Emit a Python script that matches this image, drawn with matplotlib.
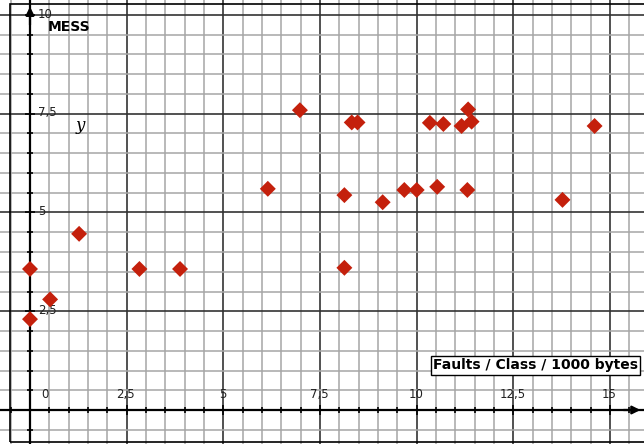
import numpy as np
import matplotlib
matplotlib.use("Agg")
import matplotlib.pyplot as plt
from matplotlib.ticker import MultipleLocator
from matplotlib.transforms import offset_copy
from matplotlib.patches import Rectangle

# faults / class / 1000 bytes  vs  MESS
faults = [0.0, 0.0, 0.52, 1.27, 2.83, 3.88, 6.15, 6.98, 8.13, 8.13,
          8.32, 8.47, 9.12, 9.68, 10.0, 10.34, 10.53, 10.69, 11.16,
          11.33, 11.42, 11.31, 13.77, 14.6]
mess = [3.57, 2.3, 2.8, 4.46, 3.57, 3.57, 5.6, 7.59, 5.44, 3.6,
        7.28, 7.28, 5.26, 5.57, 5.57, 7.27, 5.65, 7.24, 7.19,
        7.61, 7.3, 5.57, 5.32, 7.19]

xticks = [0, 2.5, 5, 7.5, 10, 12.5, 15]
xlabels = ["0", "2,5", "5", "7,5", "10", "12,5", "15"]
yticks = [2.5, 5, 7.5, 10]
ylabels = ["2,5", "5", "7,5", "10"]

fig = plt.figure(figsize=(6.44, 4.44), dpi=100)
ax = fig.add_axes([0, 0, 1, 1])
ax.set_xlim(-30 / 38.67, 614 / 38.67)
ax.set_ylim(-34 / 39.5, 410 / 39.5)

ax.xaxis.set_major_locator(MultipleLocator(2.5))
ax.xaxis.set_minor_locator(MultipleLocator(0.5))
ax.yaxis.set_major_locator(MultipleLocator(2.5))
ax.yaxis.set_minor_locator(MultipleLocator(0.5))
ax.grid(which="minor", color="#a6a6a6", lw=1.1)
ax.grid(which="major", color="#333333", lw=1.2)
ax.set_axisbelow(True)

for s in ["top", "right"]:
    ax.spines[s].set_visible(False)
for s in ["left", "bottom"]:
    ax.spines[s].set_position(("data", 0))
    ax.spines[s].set_linewidth(1.6)
ax.tick_params(which="both", direction="inout", labelbottom=False,
               labelleft=False, color="black", width=1.2)
ax.tick_params(which="major", length=7)
ax.tick_params(which="minor", length=4)

# frame
ax.add_patch(Rectangle((10 / 644, 2 / 444), 1, (440 - 2) / 444,
                       transform=ax.transAxes, fill=False, ec="black",
                       lw=1.2, clip_on=False, zorder=5))

# arrow heads
x0, x1 = ax.get_xlim()
y0, y1 = ax.get_ylim()
ax.annotate("", xy=(x1 - 0.02, 0), xytext=(x1 - 0.6, 0),
            arrowprops=dict(arrowstyle="-|>", color="black", lw=1.6,
                            mutation_scale=12), zorder=6)
ax.annotate("", xy=(0, y1 - 0.1), xytext=(0, y1 - 0.7),
            arrowprops=dict(arrowstyle="-|>", color="black", lw=1.6,
                            mutation_scale=12), zorder=6)

# tick labels
for v, lab in zip(xticks, xlabels):
    dx = 15 if v == 0 else -1
    tr = offset_copy(ax.transData, fig=fig, x=dx, y=16, units="dots")
    ax.text(v, 0, lab, transform=tr, ha="center", va="center",
            fontsize=8.5, color="#222222")
for v, lab in zip(yticks, ylabels):
    tr = offset_copy(ax.transData, fig=fig, x=8, y=1, units="dots")
    ax.text(0, v, lab, transform=tr, ha="left", va="center",
            fontsize=8.5, color="#222222")

ax.scatter(faults, mess, marker="D", s=66, color="#c4200c",
           edgecolors="none", zorder=7, clip_on=False)

ax.text(48 / 644, 1 - 27 / 444, "MESS", transform=ax.transAxes,
        fontsize=10, fontweight="bold", ha="left", va="center")
ax.text(80 / 644, 1 - 125 / 444, "y", transform=ax.transAxes,
        fontsize=12, family="DejaVu Serif", style="italic",
        ha="center", va="center")
ax.text(638 / 644, 1 - 365.5 / 444, "Faults / Class / 1000 bytes",
        transform=ax.transAxes, fontsize=10, fontweight="bold",
        ha="right", va="center", zorder=8,
        bbox=dict(boxstyle="square,pad=0.15", fc="white", ec="black",
                  lw=1.0))

fig.savefig("out.png", dpi=100)
